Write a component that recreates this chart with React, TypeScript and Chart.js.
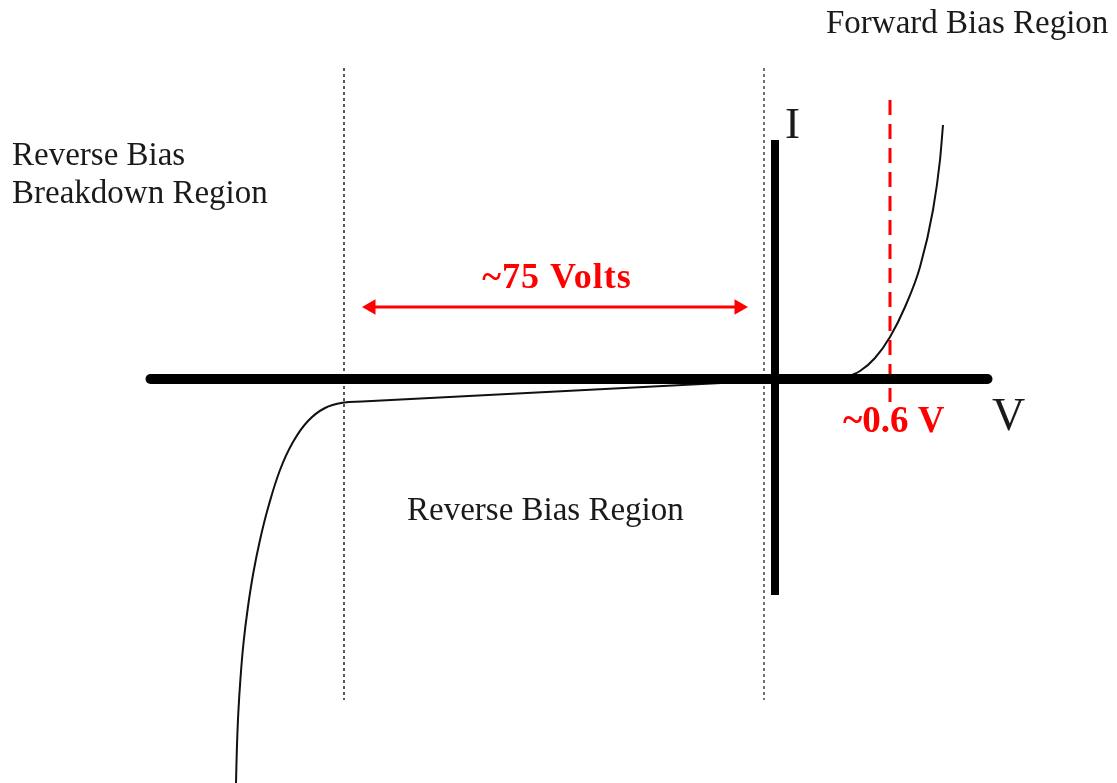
import React, { useEffect, useRef } from "react";
import { Chart, registerables } from "chart.js";

Chart.register(...registerables);

// Schematic units: 1 unit = one tenth of the drawing's grid (origin at the axes crossing)
const forwardV = [6.5, 8.5, 10, 11.5, 13, 14.5, 15.8, 16.5, 16.8];
const forwardI = [0, 0.8, 2.1, 4.2, 7.2, 11.2, 16.9, 21.9, 25.4];

// breakdown knee (steep part) and leakage part of the reverse curve
const breakdownKneeV = [-53.9, -53.81, -53.67, -53.45, -53.15, -52.72, -52.17, -51.5, -50.7, -49.5, -48.2, -46.7, -45.0, -43.1, -41.3];
const breakdownKneeI = [-40.4, -36.9, -33.4, -29.9, -26.4, -22.9, -19.4, -16.1, -12.9, -9.1, -6.3, -4.2, -2.9, -2.35, -2.25];
const leakageV = [-41.3, -1.5, 0];
const leakageI = [-2.25, -0.2, 0];

const vAxisRange = [-62.45, 21.25];
const iAxisRange = [23.9, -21.6];
const breakdownV = -43.1;
const zeroMarkerV = -1.1;
const markerIRange = [31.1, -32.1];
const thresholdV = 11.5;
const thresholdIRange = [27.9, -2.3];
const spanArrowV = [-40.4, -3.6];
const spanArrowI = 7.2;

const RED = "#ff0000";
const INK = "#1a1a1a";

const labels = [
  { text: "Forward Bias Region", x: 5.1, y: 34.6, font: "33px 'Liberation Serif'", color: INK, align: "left", spacing: 0 },
  { text: "Reverse Bias", x: -76.3, y: 21.4, font: "33px 'Liberation Serif'", color: INK, align: "left", spacing: 0 },
  { text: "Breakdown Region", x: -76.3, y: 17.6, font: "33px 'Liberation Serif'", color: INK, align: "left", spacing: 0 },
  { text: "~75 Volts", x: -21.8, y: 9.1, font: "bold 36px 'Liberation Serif'", color: RED, align: "center", spacing: 1 },
  { text: "~0.6 V", x: 6.8, y: -5.3, font: "bold 37px 'Liberation Serif'", color: RED, align: "left", spacing: 0 },
  { text: "V", x: 21.7, y: -5.1, font: "46px 'Liberation Serif'", color: INK, align: "left", spacing: 0 },
  { text: "I", x: 1.0, y: 24.1, font: "45px 'Liberation Serif'", color: INK, align: "left", spacing: 0 },
  { text: "Reverse Bias Region", x: -36.8, y: -14.1, font: "33px 'Liberation Serif'", color: INK, align: "left", spacing: 0 },
];

const zip = (xs: number[], ys: number[]) => xs.map((x, i) => ({ x, y: ys[i] }));

const textPlugin = {
  id: "diagramText",
  afterDatasetsDraw(chart: any) {
    const { ctx, scales } = chart;
    ctx.save();
    ctx.textBaseline = "alphabetic";
    for (const l of labels) {
      ctx.font = l.font;
      ctx.fillStyle = l.color;
      ctx.textAlign = l.align as CanvasTextAlign;
      (ctx as any).letterSpacing = `${l.spacing}px`;
      ctx.fillText(l.text, scales.x.getPixelForValue(l.x), scales.y.getPixelForValue(l.y));
    }
    ctx.restore();
  },
};

export default function App() {
  const ref = useRef<HTMLCanvasElement | null>(null);
  useEffect(() => {
    if (!ref.current) return;
    const base = { pointRadius: 0, fill: false, showLine: true, tension: 0 };
    const chart = new Chart(ref.current, {
      type: "line",
      data: {
        datasets: [
          {
            ...base,
            data: zip(vAxisRange, [0, 0]),
            borderColor: "#000",
            borderWidth: 10,
            borderCapStyle: "round",
          },
          {
            ...base,
            data: zip([0, 0], iAxisRange),
            borderColor: "#000",
            borderWidth: 8,
            borderCapStyle: "butt",
          },
          {
            ...base,
            data: zip(forwardV, forwardI),
            borderColor: "#111",
            borderWidth: 2,
            cubicInterpolationMode: "monotone",
          },
          {
            ...base,
            data: zip(breakdownKneeV, breakdownKneeI),
            borderColor: "#111",
            borderWidth: 2,
            tension: 0.4,
          },
          {
            ...base,
            data: zip(leakageV, leakageI),
            borderColor: "#111",
            borderWidth: 2,
          },
          {
            ...base,
            data: zip([breakdownV, breakdownV], markerIRange),
            borderColor: "#222",
            borderWidth: 1.5,
            borderDash: [3, 3],
          },
          {
            ...base,
            data: zip([zeroMarkerV, zeroMarkerV], markerIRange),
            borderColor: "#444",
            borderWidth: 1.5,
            borderDash: [3, 3],
          },
          {
            ...base,
            data: zip([thresholdV, thresholdV], thresholdIRange),
            borderColor: RED,
            borderWidth: 3,
            borderDash: [15, 9],
          },
          {
            ...base,
            data: zip(spanArrowV, [spanArrowI, spanArrowI]),
            borderColor: RED,
            borderWidth: 3,
            pointRadius: 9,
            pointStyle: "triangle",
            pointRotation: [-90, 90],
            pointBackgroundColor: RED,
            pointBorderColor: RED,
            pointBorderWidth: 0,
          },
        ] as any,
      },
      options: {
        animation: false,
        responsive: false,
        maintainAspectRatio: false,
        layout: { padding: 0, autoPadding: false },
        events: [],
        plugins: { legend: { display: false }, tooltip: { enabled: false } },
        scales: {
          x: { type: "linear", display: false, min: -77.5, max: 34.2 },
          y: { type: "linear", display: false, min: -40.4, max: 37.9 },
        },
      },
      plugins: [textPlugin],
    });
    return () => chart.destroy();
  }, []);
  return (
    <div style={{ position: "fixed", left: 0, top: 0, width: 1117, height: 783, background: "#fff" }}>
      <canvas ref={ref} width={1117} height={783} />
    </div>
  );
}
